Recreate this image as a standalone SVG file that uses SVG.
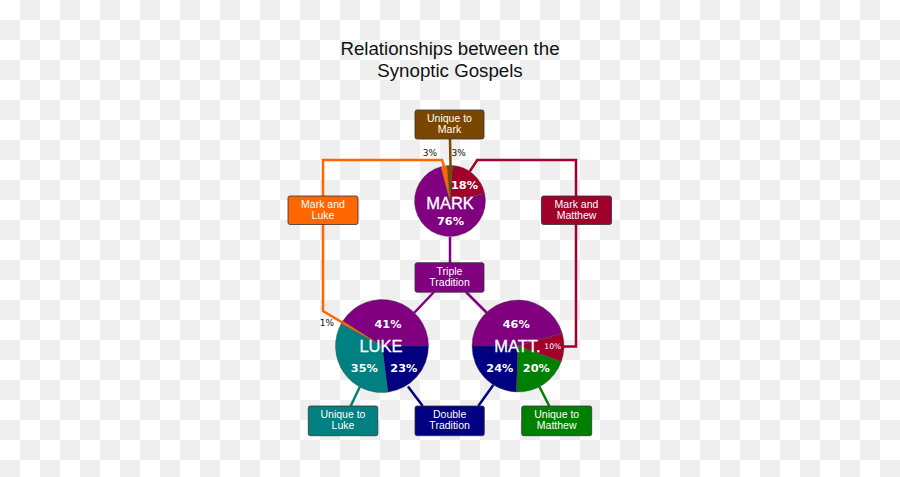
<svg xmlns="http://www.w3.org/2000/svg" width="900" height="477" viewBox="0 0 900 477">
<defs>
<pattern id="checker" patternUnits="userSpaceOnUse" width="40" height="40">
<rect width="40" height="40" fill="#ffffff"/>
<rect x="20" y="0" width="20" height="20" fill="#efefef"/>
<rect x="0" y="20" width="20" height="20" fill="#efefef"/>
</pattern>
<style>
.title{font-family:"Liberation Sans",Arial,sans-serif;font-size:18.7px;fill:#111;text-anchor:middle}
.box{stroke:#333;stroke-width:0.8}
.bt{font-family:"Liberation Sans",Arial,sans-serif;font-size:10.5px;fill:#fff;text-anchor:middle}
.name{font-family:"Liberation Sans",Arial,sans-serif;font-size:16.5px;fill:#fff;text-anchor:middle;stroke:#fff;stroke-width:0.3}
.pct{font-family:"DejaVu Sans",sans-serif;font-weight:bold;font-size:11.3px;fill:#fff;text-anchor:middle}
.small{font-family:"DejaVu Sans",sans-serif;font-size:9px;fill:#111;text-anchor:middle}
.pie{stroke:#444;stroke-width:0.4}
.conn{fill:none;stroke-width:2.5;stroke-linejoin:miter}
</style>
</defs>
<rect width="900" height="477" fill="url(#checker)"/>
<text class="title" x="450" y="55">Relationships between the</text>
<text class="title" x="450" y="77">Synoptic Gospels</text>

<g id="connectors">
<polyline class="conn" stroke="#7b4700" points="450,139 450.5,166"/>
<polyline class="conn" stroke="#ff6600" points="444,166 442,160 323,160 323,311 342.4,322.5"/>
<polyline class="conn" stroke="#a0002a" points="469.7,171.5 477.3,160 576,160 576,346.5 563,346.5"/>
<polyline class="conn" stroke="#800080" points="450,237 450,263"/>
<polyline class="conn" stroke="#800080" points="434,292 414,313"/>
<polyline class="conn" stroke="#800080" points="466,292 487,313"/>
<polyline class="conn" stroke="#008080" points="360,386.5 350.7,406"/>
<polyline class="conn" stroke="#000080" points="408,386.5 422.7,406"/>
<polyline class="conn" stroke="#000080" points="493.3,385 478.3,406"/>
<polyline class="conn" stroke="#008000" points="539.3,386.5 549.3,406"/>
</g>

<g id="mark">
<path class="pie" fill="#800080" d="M450,201 L484.72,193.62 A35.5,35.5 0 1 1 440.81,166.71 Z"/>
<path class="pie" fill="#a0002a" d="M450,201 L452.48,165.59 A35.5,35.5 0 0 1 484.72,193.62 Z"/>
<path class="pie" fill="#7b4700" d="M450,201 L446.91,165.64 A35.5,35.5 0 0 1 452.48,165.59 Z"/>
<path class="pie" fill="#ff6600" d="M450,201 L440.81,166.71 A35.5,35.5 0 0 1 446.91,165.64 Z"/>
<text class="name" x="450" y="209">MARK</text>
<text class="pct" x="450.5" y="225">76%</text>
<text class="pct" x="464.5" y="189.3">18%</text>
<text class="small" x="430" y="155.7">3%</text>
<text class="small" x="458.7" y="155.7">3%</text>
</g>

<g id="luke">
<path class="pie" fill="#800080" d="M382,346 L342.74,321.08 A46.5,46.5 0 0 1 428.5,346 Z"/>
<path class="pie" fill="#000080" d="M382,346 L428.5,346 A46.5,46.5 0 0 1 387.83,392.13 Z"/>
<path class="pie" fill="#008080" d="M382,346 L387.83,392.13 A46.5,46.5 0 0 1 341.25,323.6 Z"/>
<path class="pie" fill="#ff6600" d="M382,346 L341.25,323.6 A46.5,46.5 0 0 1 342.74,321.08 Z"/>
<text class="name" x="381" y="351.7">LUKE</text>
<text class="pct" x="388" y="327.5">41%</text>
<text class="pct" x="364.3" y="372">35%</text>
<text class="pct" x="403.8" y="372">23%</text>
<text class="small" x="327" y="326">1%</text>
</g>

<g id="matthew">
<path class="pie" fill="#800080" d="M518,346 L472,346 A46,46 0 0 1 562.22,333.32 Z"/>
<path class="pie" fill="#a0002a" d="M518,346 L562.22,333.32 A46,46 0 0 1 561.23,361.73 Z"/>
<path class="pie" fill="#008000" d="M518,346 L561.23,361.73 A46,46 0 0 1 516.39,391.97 Z"/>
<path class="pie" fill="#000080" d="M518,346 L516.39,391.97 A46,46 0 0 1 472,346 Z"/>
<text class="name" x="517.5" y="352">MATT.</text>
<text class="pct" x="516.2" y="327.5">46%</text>
<text class="pct" x="499.8" y="372">24%</text>
<text class="pct" x="536.3" y="372">20%</text>
<text class="pct" x="552.8" y="349" style="font-weight:normal;font-size:7.6px">10%</text>
</g>

<g id="unique-mark">
<rect class="box" x="415" y="110" width="69" height="29" rx="2" fill="#7b4700"/>
<text class="bt" x="449.5" y="122">Unique to</text>
<text class="bt" x="449.5" y="133.3">Mark</text>
</g>
<g id="mark-luke">
<rect class="box" x="288" y="196" width="70" height="28.5" rx="2" fill="#ff6600"/>
<text class="bt" x="323" y="207.8">Mark and</text>
<text class="bt" x="323" y="219.2">Luke</text>
</g>
<g id="mark-matthew">
<rect class="box" x="541.5" y="196" width="70" height="28.5" rx="2" fill="#a0002a"/>
<text class="bt" x="576.5" y="207.8">Mark and</text>
<text class="bt" x="576.5" y="219.2">Matthew</text>
</g>
<g id="triple">
<rect class="box" x="415" y="262.7" width="69" height="29.5" rx="2" fill="#800080"/>
<text class="bt" x="449.5" y="274.7">Triple</text>
<text class="bt" x="449.5" y="286">Tradition</text>
</g>
<g id="unique-luke">
<rect class="box" x="308.3" y="406" width="69.5" height="29.7" rx="2" fill="#008080"/>
<text class="bt" x="343" y="418">Unique to</text>
<text class="bt" x="343" y="429.3">Luke</text>
</g>
<g id="double">
<rect class="box" x="415" y="406" width="69.3" height="29.7" rx="2" fill="#000080"/>
<text class="bt" x="449.6" y="418">Double</text>
<text class="bt" x="449.6" y="429.3">Tradition</text>
</g>
<g id="unique-matthew">
<rect class="box" x="521.7" y="406" width="70" height="29.7" rx="2" fill="#008000"/>
<text class="bt" x="556.7" y="418">Unique to</text>
<text class="bt" x="556.7" y="429.3">Matthew</text>
</g>
</svg>
